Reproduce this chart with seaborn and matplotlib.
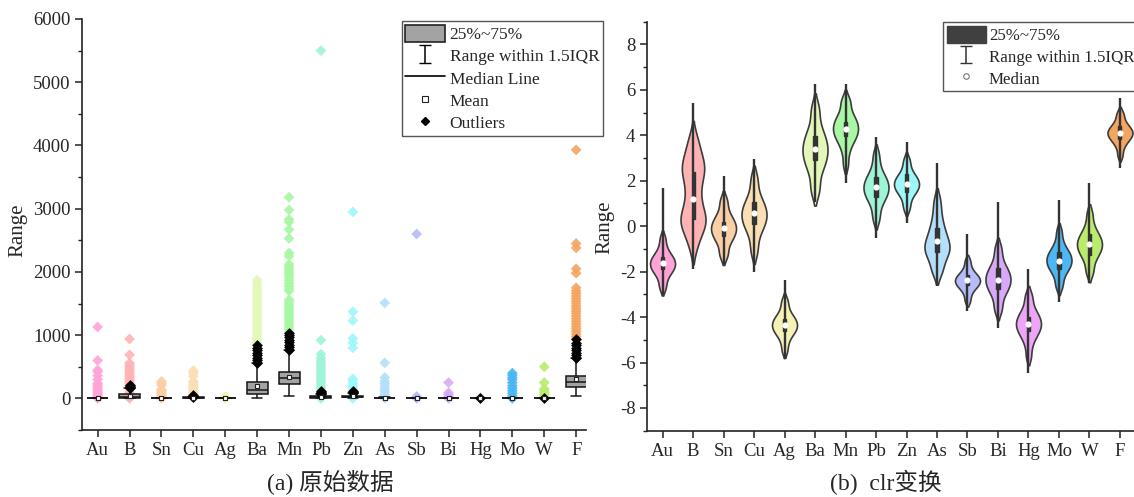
import numpy as np
import pandas as pd
import matplotlib
matplotlib.use('Agg')
import matplotlib.pyplot as plt
from matplotlib.patches import Patch
from matplotlib.lines import Line2D
from matplotlib.ticker import MultipleLocator
import seaborn as sns

elements = ['Au', 'B', 'Sn', 'Cu', 'Ag', 'Ba', 'Mn', 'Pb', 'Zn', 'As', 'Sb', 'Bi', 'Hg', 'Mo', 'W', 'F']
colors = ['#FFA3D9', '#FFB3B5', '#FBCFA6', '#F9DFB3', '#F5F2B5', '#E3F7B8', '#A8F7A3', '#9DF5D6',
          '#9EF8FA', '#B3DFFA', '#B5BCF8', '#D8A9F8', '#ECA5F7', '#4BB8F5', '#BAEB6C', '#F4A562']

# (a) 原始数据 -- visible data points (coloured diamonds)
raw_points = {
    'Au': [0, 15, 30, 50, 70, 100, 130, 160, 190, 215, 240, 300, 360, 420, 450, 600, 1130],
    'B': [0, 30, 60, 100, 150, 200, 230, 260, 290, 320, 350, 380, 410, 440, 470, 500, 530, 560, 690, 940],
    'Sn': [0, 20, 40, 60, 80, 100, 120, 140, 210, 240, 270],
    'Cu': [0, 30, 60, 90, 120, 150, 180, 210, 240, 270, 350, 400, 440],
    'Ag': [0, 15, 30],
    'Ba': [850, 890, 930, 970, 1010, 1050, 1090, 1130, 1170, 1210, 1250, 1290, 1330, 1370, 1410, 1450,
           1490, 1530, 1570, 1610, 1650, 1690, 1730, 1780, 1830, 1870],
    'Mn': [1050, 1090, 1130, 1170, 1210, 1250, 1290, 1330, 1370, 1410, 1450, 1490, 1530, 1560, 1700, 1740,
           1780, 1820, 1870, 1920, 1960, 2000, 2040, 2080, 2120, 2250, 2300, 2530, 2670, 2790, 2830, 2980, 3180],
    'Pb': [0, 40, 80, 120, 160, 200, 240, 280, 320, 360, 400, 440, 480, 520, 560, 600, 640, 700, 920, 5500],
    'Zn': [0, 40, 80, 120, 160, 200, 240, 280, 310, 800, 880, 950, 1230, 1370, 2950],
    'As': [0, 30, 60, 100, 140, 180, 230, 270, 330, 560, 1510],
    'Sb': [0, 15, 30, 2600],
    'Bi': [0, 30, 60, 90, 250],
    'Hg': [0, 10],
    'Mo': [0, 40, 80, 120, 160, 200, 250, 300, 330, 370, 400],
    'W': [0, 30, 60, 90, 120, 150, 250, 500],
    'F': [940, 980, 1020, 1060, 1100, 1140, 1180, 1220, 1260, 1300, 1340, 1380, 1420, 1460, 1500, 1540,
          1580, 1620, 1660, 1700, 1750, 1980, 2050, 2380, 2450, 3930],
}
# black outliers
raw_outliers = {
    'B': [165, 180, 195, 210],
    'Cu': [20, 35, 50],
    'Ba': [560, 600, 640, 680, 720, 760, 800, 843],
    'Mn': [770, 810, 850, 890, 930, 970, 1000, 1027],
    'Pb': [75, 90, 105, 120],
    'Zn': [80, 95, 110],
    'Hg': [5],
    'W': [5],
    'F': [640, 680, 720, 760, 800, 840, 880, 932],
}
# whisker low, q1, median, q3, whisker high
raw_box = {
    'Au': [0, 1, 2, 4, 8], 'B': [0, 8, 22, 65, 163], 'Sn': [0, 1, 2, 3, 6], 'Cu': [0, 4, 8, 16, 18],
    'Ag': [0, 0.2, 0.4, 0.6, 1], 'Ba': [0, 69, 137, 267, 556], 'Mn': [42, 226, 330, 424, 765],
    'Pb': [0, 12, 22, 35, 70], 'Zn': [0, 15, 25, 42, 80], 'As': [0, 2, 4, 7, 15], 'Sb': [0, 0.3, 0.6, 1, 2],
    'Bi': [0, 0.3, 0.6, 1, 2], 'Hg': [0, 0.02, 0.04, 0.06, 0.1], 'Mo': [0, 0.5, 1, 2, 4],
    'W': [0, 1, 2, 3, 6], 'F': [31, 178, 262, 356, 634],
}
raw_mean = [8, 40, 3, 12, 0.5, 200, 340, 28, 32, 6, 1, 1, 0.1, 3, 4, 304]

# (b) clr变换 -- values read along the body of each violin
clr_sample = {
    'Au': [-2.75, -2.46, -2.21, -2.06, -1.95, -1.86, -1.77, -1.69, -1.61, -1.53, -1.44, -1.35, -1.24,
           -1.09, -0.84, -0.5],
    'B': [-1.0, -0.55, -0.3, -0.1, 0.05, 0.2, 0.3, 0.42, 0.55, 0.75, 1.0, 1.25, 1.5, 1.8, 2.05,
          2.25, 2.4, 2.55, 2.7, 2.85, 3.05, 3.3, 3.6, 3.95],
    'Sn': [-1.35, -1.09, -0.78, -0.61, -0.47, -0.35, -0.25, -0.15, -0.05, 0.05, 0.15, 0.27, 0.41,
           0.58, 0.89, 1.2],
    'Cu': [-1.2, -0.76, -0.37, -0.14, 0.03, 0.18, 0.31, 0.44, 0.56, 0.69, 0.82, 0.97, 1.14,
           1.37, 1.76, 2.2],
    'Ag': [-5.5, -5.16, -4.91, -4.76, -4.65, -4.56, -4.47, -4.39, -4.31, -4.23, -4.14, -4.05, -3.94,
           -3.79, -3.54, -3.25],
    'Ba': [1.45, 1.82, 2.3, 2.57, 2.78, 2.96, 3.12, 3.27, 3.43, 3.58, 3.74, 3.92, 4.13, 4.4, 4.88, 5.3],
    'Mn': [2.7, 3.22, 3.56, 3.75, 3.9, 4.02, 4.14, 4.25, 4.35, 4.46, 4.58, 4.7, 4.85, 5.04, 5.38, 5.6],
    'Pb': [0.25, 0.62, 0.96, 1.15, 1.3, 1.42, 1.54, 1.65, 1.75, 1.86, 1.98, 2.1, 2.25, 2.44, 2.78, 3.2],
    'Zn': [0.75, 1.04, 1.29, 1.44, 1.55, 1.64, 1.73, 1.81, 1.89, 1.97, 2.06, 2.15, 2.26, 2.41, 2.66, 2.95],
    'As': [-2.1, -1.85, -1.55, -1.35, -1.2, -1.07, -0.95, -0.83, -0.7, -0.55, -0.38, -0.18,
           0.05, 0.35, 0.75, 1.2],
    'Sb': [-3.3, -3.03, -2.83, -2.72, -2.63, -2.56, -2.49, -2.43, -2.37, -2.31, -2.24, -2.17, -2.08,
           -1.97, -1.77, -1.5],
    'Bi': [-3.75, -3.43, -3.09, -2.9, -2.75, -2.63, -2.51, -2.4, -2.3, -2.19, -2.07, -1.95,
           -1.8, -1.61, -1.27, -0.9],
    'Hg': [-5.75, -5.29, -4.98, -4.81, -4.67, -4.55, -4.45, -4.35, -4.25, -4.15, -4.05, -3.93,
           -3.79, -3.62, -3.31, -3.0],
    'Mo': [-2.7, -2.4, -2.12, -1.96, -1.84, -1.73, -1.64, -1.55, -1.45, -1.36, -1.27, -1.16,
           -1.04, -0.88, -0.6, -0.2],
    'W': [-2.1, -1.79, -1.48, -1.31, -1.17, -1.05, -0.95, -0.85, -0.75, -0.65, -0.55, -0.43, -0.29,
          -0.12, 0.19, 0.6],
    'F': [3.1, 3.42, 3.63, 3.75, 3.85, 3.93, 4.0, 4.07, 4.13, 4.2, 4.27, 4.35, 4.45, 4.57, 4.78, 5.0],
}
# min, q1, median, q3, max
clr_box = {
    'Au': [-3.05, -1.9, -1.63, -1.35, 1.7], 'B': [-1.9, 0.3, 1.18, 2.4, 5.43],
    'Sn': [-1.65, -0.45, -0.1, 0.2, 2.2], 'Cu': [-2.0, 0.1, 0.58, 1.05, 2.95],
    'Ag': [-5.85, -4.6, -4.35, -4.1, -2.35], 'Ba': [1.05, 2.9, 3.39, 3.95, 6.25],
    'Mn': [1.9, 3.95, 4.28, 4.6, 6.25], 'Pb': [-0.52, 1.3, 1.73, 2.15, 3.91],
    'Zn': [0.15, 1.5, 1.85, 2.3, 3.7], 'As': [-2.64, -1.15, -0.64, -0.1, 2.76],
    'Sb': [-3.74, -2.6, -2.37, -2.15, -0.35], 'Bi': [-4.5, -2.75, -2.35, -1.85, 1.07],
    'Hg': [-6.44, -4.6, -4.32, -4.0, -1.9], 'Mo': [-3.33, -1.9, -1.52, -1.15, 1.15],
    'W': [-2.49, -1.25, -0.79, -0.35, 1.91], 'F': [2.54, 3.85, 4.11, 4.4, 5.62],
}


def long_form(table):
    rows = [(k, v) for k in elements for v in table.get(k, [])]
    return pd.DataFrame(rows, columns=['elem', 'val'])


sns.set_theme(style='ticks')
plt.rcParams['font.family'] = ['Liberation Serif', 'Noto Sans CJK SC']
plt.rcParams['axes.unicode_minus'] = False

pal = dict(zip(elements, colors))
fig = plt.figure(figsize=(11.34, 4.97), dpi=100)
ax1 = fig.add_axes([0.0726, 0.1348, 0.4439, 0.827])
ax2 = fig.add_axes([0.5708, 0.1334, 0.4292, 0.823])

# ---- (a) box plot ----
sns.stripplot(data=long_form(raw_points), x='elem', y='val', hue='elem', palette=pal, order=elements,
              jitter=False, marker='D', size=5.5, linewidth=0, alpha=0.9, legend=False, ax=ax1, zorder=1)
sns.boxplot(data=long_form(raw_box), x='elem', y='val', order=elements, color='#a3a3a3', linecolor='#151515',
            linewidth=1.1, width=0.66, whis=(0, 100), showfliers=False, saturation=1, ax=ax1)
sns.stripplot(data=long_form(raw_outliers), x='elem', y='val', order=elements, color='black',
              jitter=False, marker='D', size=5.5, linewidth=0, ax=ax1, zorder=3)
sns.stripplot(x=elements, y=raw_mean, order=elements, color='white', jitter=False, marker='s', size=3.5,
              linewidth=0.8, edgecolor='#222222', ax=ax1, zorder=4)

ax1.set_xlim(-0.48, 15.3)
ax1.set_ylim(-500, 6000)
ax1.yaxis.set_major_locator(MultipleLocator(1000))
ax1.yaxis.set_minor_locator(MultipleLocator(500))

eb1 = ax1.errorbar([np.nan], [np.nan], yerr=[np.nan], fmt='none', ecolor='black', elinewidth=1.1, capsize=4)
handles1 = [Patch(facecolor='#a3a3a3', edgecolor='#222222', linewidth=1.2), eb1,
            Line2D([], [], color='black', lw=1.2),
            Line2D([], [], ls='none', marker='s', mfc='white', mec='#222222', ms=4, mew=0.8),
            Line2D([], [], ls='none', marker='D', color='black', ms=4)]
labels1 = ['25%~75%', 'Range within 1.5IQR', 'Median Line', 'Mean', 'Outliers']
ax1.legend(handles1, labels1, loc='upper left', bbox_to_anchor=(0.635, 0.995), fancybox=False,
           edgecolor='#555555', framealpha=1, fontsize=12.5, borderaxespad=0, handlelength=2.25,
           handleheight=1.2, handletextpad=0.3, labelspacing=0.2, borderpad=0.2)

# ---- (b) violin plot ----
sns.violinplot(data=long_form(clr_sample), x='elem', y='val', hue='elem', palette=pal, order=elements,
               legend=False, inner=None, cut=1.5, bw_adjust=0.6, density_norm='width', width=0.82,
               linewidth=1.2, linecolor='#3c3c3c', saturation=1, ax=ax2)
sns.boxplot(data=long_form(clr_box), x='elem', y='val', order=elements, color='#333333', linecolor='#333333',
            width=0.1, whis=(0, 100), showcaps=False, showfliers=False, saturation=1,
            medianprops={'linewidth': 0}, whiskerprops={'linewidth': 1.7}, ax=ax2)
sns.stripplot(x=elements, y=[clr_box[k][2] for k in elements], order=elements, color='white', jitter=False,
              marker='o', size=4.5, linewidth=0, ax=ax2, zorder=5)

ax2.set_xlim(-0.5, 15.46)
ax2.set_ylim(-9, 9)
ax2.yaxis.set_major_locator(MultipleLocator(2))
ax2.yaxis.set_minor_locator(MultipleLocator(1))

eb2 = ax2.errorbar([np.nan], [np.nan], yerr=[np.nan], fmt='none', ecolor='#333333', elinewidth=1.1, capsize=4)
handles2 = [Patch(facecolor='#404040', edgecolor='#404040'), eb2,
            Line2D([], [], ls='none', marker='o', mfc='white', mec='#777777', ms=4, mew=0.8)]
labels2 = ['25%~75%', 'Range within 1.5IQR', 'Median']
ax2.legend(handles2, labels2, loc='upper left', bbox_to_anchor=(0.608, 0.9985), fancybox=False,
           edgecolor='#555555', framealpha=1, fontsize=12.2, borderaxespad=0, handlelength=2.3,
           handleheight=1.2, handletextpad=0.2, labelspacing=0.2, borderpad=0.2)

for ax in (ax1, ax2):
    sns.despine(ax=ax)
    ax.set_xlabel('')
    ax.set_ylabel('Range', fontsize=15)
    for side in ('left', 'bottom'):
        ax.spines[side].set_linewidth(1.2)
        ax.spines[side].set_color('#222222')
    ax.tick_params(which='major', direction='out', length=5, width=1.1, labelsize=13.5, color='#222222')
    ax.tick_params(which='minor', direction='out', length=3, width=1.0, color='#222222')
    ax.tick_params(axis='x', which='minor', bottom=False)

ax1.yaxis.set_label_coords(-0.11, 0.487)
ax2.yaxis.set_label_coords(-0.068, 0.498)

fig.text(330 / 1134, 1 - 482 / 497, '(a) 原始数据', ha='center', va='center', fontsize=17)
fig.text(886 / 1134, 1 - 482 / 497, '(b)  clr变换', ha='center', va='center', fontsize=17)

fig.savefig('out.png', dpi=100)
